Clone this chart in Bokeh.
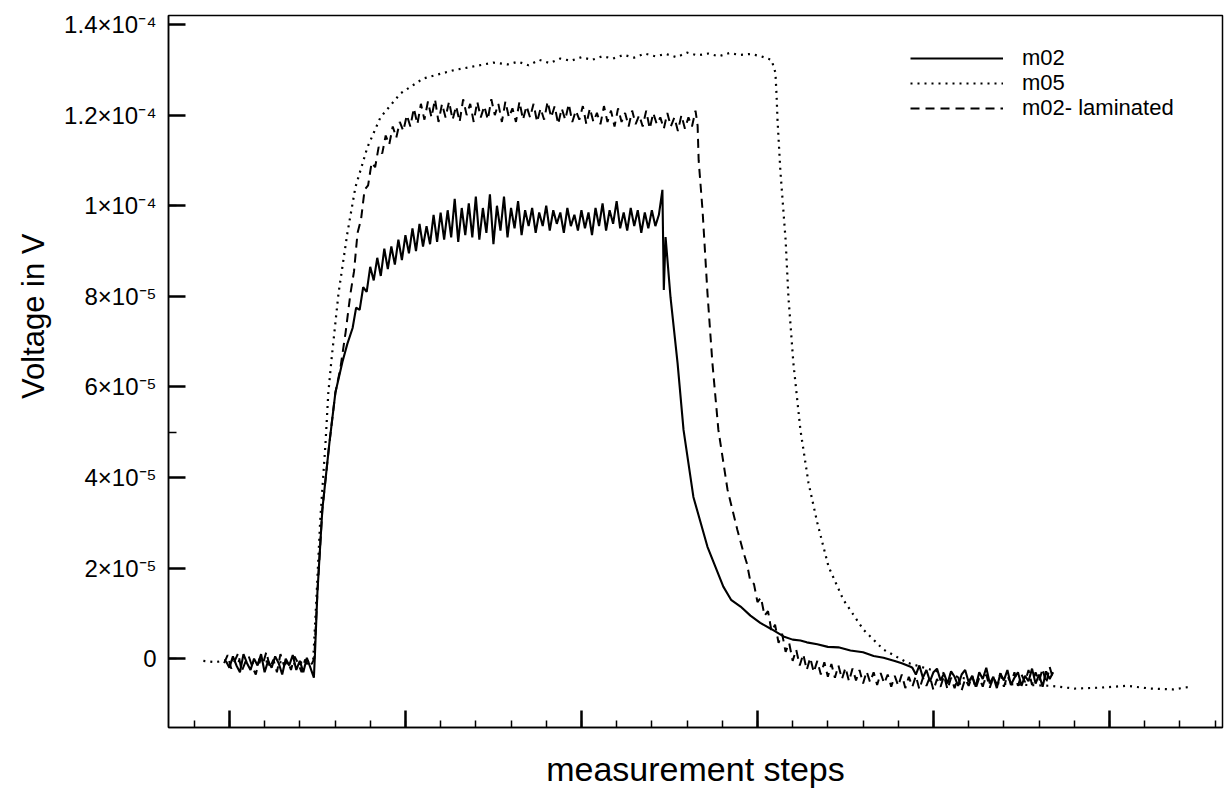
import numpy as np
from bokeh.plotting import figure
from bokeh.models import FixedTicker, Range1d, Title, Legend, LegendItem
from bokeh.embed import file_html
from bokeh.resources import INLINE

FONT = "Liberation Sans"

# ---- axis ticks / labels (voltage in units of 1e-5 V) ----
y_ticks = [0, 2, 4, 6, 8, 10, 12, 14]
y_tick_labels = ["0", "2×10⁻⁵", "4×10⁻⁵", "6×10⁻⁵", "8×10⁻⁵", "1×10⁻⁴", "1.2×10⁻⁴", "1.4×10⁻⁴"]
x_major_ticks = [500, 1000, 1500, 2000, 2500, 3000]
series_names = ["m02", "m05", "m02- laminated"]

# ---- m02 (solid) ----
m02_base_start, m02_base_step = 490, 10
m02_base_y = [-0.05, -0.2, 0.05, -0.15, -0.3, 0.1, -0.1, -0.25, 0.0, -0.15, 0.1, -0.3, -0.05,
              -0.2, 0.05, -0.1, -0.35, 0.0, -0.15, 0.08, -0.25, -0.05, -0.3, 0.02, -0.2, -0.42]
m02_rise_x = [743, 750, 764, 784, 801, 821, 835]
m02_rise_y = [0.1, 1.46, 3.29, 4.76, 5.87, 6.55, 6.95]
m02_plat_start, m02_plat_step = 850, 10
m02_plat_y = [7.30, 7.75, 7.70, 8.20, 8.10, 8.65, 8.35, 8.85, 8.45, 9.05, 8.60, 9.10, 8.70, 9.25, 8.80,
              9.35, 8.95, 9.50, 9.00, 9.60, 9.10, 9.55, 9.15, 9.80, 9.20, 9.85, 9.25, 9.90, 9.30, 10.15,
              9.20, 9.95, 9.35, 10.05, 9.30, 10.20, 9.25, 9.95, 9.40, 10.25, 9.15, 10.00, 9.45, 10.20, 9.30,
              9.95, 9.50, 10.10, 9.35, 9.90, 9.55, 9.95, 9.40, 9.85, 9.55, 10.00, 9.45, 9.90, 9.60, 9.85,
              9.40, 9.95, 9.55, 9.80, 9.45, 9.90, 9.50, 9.85, 9.35, 9.95, 9.55, 10.05, 9.45, 9.90, 9.60,
              10.10, 9.50, 9.85, 9.45, 9.95, 9.55, 9.90, 9.40, 9.85, 9.50, 9.90, 9.55, 9.80, 10.35]
m02_decay_x = [1734, 1739, 1753, 1773, 1790, 1818, 1858, 1903, 1925, 1952, 1980, 2008, 2040, 2074,
               2100, 2122, 2140, 2170, 2200, 2230, 2264, 2300, 2330, 2358, 2390, 2410, 2435]
m02_decay_y = [8.14, 9.31, 7.98, 6.53, 5.05, 3.57, 2.47, 1.59, 1.30, 1.15, 0.95, 0.79, 0.65, 0.49,
               0.42, 0.40, 0.36, 0.32, 0.26, 0.25, 0.18, 0.14, 0.06, 0.02, -0.05, -0.10, -0.18]
m02_tail_start, m02_tail_step = 2440, 10
m02_tail_y = [-0.20, -0.35, -0.15, -0.42, -0.25, -0.50, -0.30, -0.22, -0.48, -0.33, -0.55, -0.28,
              -0.40, -0.60, -0.35, -0.25, -0.52, -0.38, -0.62, -0.30, -0.45, -0.20, -0.55, -0.40,
              -0.65, -0.33, -0.48, -0.25, -0.58, -0.42, -0.30, -0.60, -0.38, -0.50, -0.22, -0.55,
              -0.35, -0.62, -0.28, -0.45, -0.30]

# ---- m05 (dotted) ----
m05_flat_x = [426, 460, 500, 560, 620, 680, 738]
m05_flat_y = [-0.05, -0.08, -0.02, -0.10, -0.05, -0.12, -0.04]
m05_rise_x = [747, 758, 773, 781, 790, 810, 835, 858, 892, 929, 986, 1051, 1136, 1250]
m05_rise_y = [1.30, 3.06, 4.76, 5.87, 6.60, 8.07, 9.39, 10.41, 11.29, 11.95, 12.48, 12.81, 12.99, 13.16]
m05_plat_start, m05_plat_step = 1290, 30
m05_plat_y = [13.12, 13.18, 13.10, 13.22, 13.15, 13.25, 13.20, 13.28, 13.22, 13.30, 13.25, 13.33,
              13.27, 13.36, 13.30, 13.35, 13.28, 13.38, 13.32, 13.36, 13.30, 13.37, 13.33, 13.35, 13.30]
m05_drop_x = [2040, 2051, 2054, 2057, 2065, 2080, 2088, 2102, 2122, 2145, 2170, 2202, 2244, 2301,
              2358, 2426, 2491, 2577, 2690, 2760, 2832, 2900, 2974, 3050, 3116, 3180, 3230]
m05_drop_y = [13.22, 12.94, 12.48, 11.89, 10.78, 9.24, 7.98, 6.53, 5.05, 3.88, 3.00, 2.03, 1.30,
              0.64, 0.20, -0.09, -0.24, -0.42, -0.55, -0.58, -0.60, -0.66, -0.64, -0.60, -0.66,
              -0.68, -0.62]

# ---- m02- laminated (dashed) ----
lam_base_start, lam_base_step = 485, 10
lam_base_y = [-0.1, 0.08, -0.22, -0.05, 0.12, -0.28, -0.08, 0.05, -0.18, -0.35, 0.0, -0.12, 0.15,
              -0.2, -0.02, -0.3, 0.1, -0.15, -0.05, -0.25, 0.05, -0.1, -0.3, -0.02, -0.18, -0.1]
lam_rise_x = [741, 750, 764, 784, 801, 815, 830]
lam_rise_y = [0.0, 1.46, 3.29, 4.76, 5.87, 6.4, 7.2]
lam_plat_start, lam_plat_step = 844, 10
lam_plat_y = [8.07, 8.55, 9.40, 9.70, 10.35, 10.45, 10.95, 10.85, 11.30, 11.15, 11.55, 11.35, 11.75,
              11.50, 11.85, 11.65, 12.00, 11.75, 12.15, 11.80, 12.25, 11.90, 12.30, 11.95, 12.35,
              11.85, 12.25, 11.95, 12.30, 11.90, 12.20, 11.85, 12.35, 12.00, 12.25, 11.85, 12.30,
              11.95, 12.20, 11.90, 12.35, 12.00, 12.25, 11.85, 12.30, 11.95, 12.15, 11.85, 12.30,
              11.90, 12.20, 11.95, 12.25, 11.85, 12.15, 11.90, 12.30, 11.95, 12.20, 11.80, 12.15,
              11.90, 12.25, 11.85, 12.10, 11.90, 12.20, 11.80, 12.15, 11.85, 12.05, 11.80, 12.20,
              11.85, 12.10, 11.75, 12.15, 11.85, 12.05, 11.75, 12.10, 11.80, 12.00, 11.75, 12.10,
              11.70, 12.05, 11.80, 11.95, 11.70, 12.05, 11.75, 11.95, 11.65, 12.00, 11.70, 11.95,
              11.75, 12.10]
lam_drop_x = [1830, 1833, 1844, 1858, 1872, 1889, 1915, 1943, 1960]
lam_drop_y = [11.77, 11.0, 9.9, 8.07, 6.53, 5.05, 3.73, 2.84, 2.35]
lam_tail_start, lam_tail_step = 1970, 10
lam_tail_y = [2.10, 1.70, 1.65, 1.25, 1.35, 0.95, 1.05, 0.60, 0.75, 0.35, 0.55, 0.15, 0.35, -0.05,
              0.20, -0.15, 0.10, -0.25, 0.02, -0.30, -0.05, -0.35, -0.08, -0.40, -0.12, -0.42, -0.15,
              -0.45, -0.20, -0.50, -0.22, -0.48, -0.25, -0.55, -0.28, -0.52, -0.30, -0.58, -0.32,
              -0.55, -0.35, -0.62, -0.38, -0.60, -0.35, -0.65, -0.40, -0.62, -0.38, -0.68, -0.42,
              -0.60, -0.40, -0.70, -0.45, -0.62, -0.38, -0.68, -0.42, -0.65, -0.40, -0.70, -0.45,
              -0.60, -0.38, -0.66, -0.42, -0.62, -0.35, -0.64, -0.40, -0.58, -0.32, -0.62, -0.38,
              -0.55, -0.30, -0.60, -0.35, -0.52, -0.25, -0.58, -0.30, -0.50, -0.22, -0.55, -0.18,
              -0.45]


def regular(start, step, vals):
    return list(start + step * np.arange(len(vals))), list(vals)


def join(*parts):
    xs, ys = [], []
    for x, y in parts:
        xs += list(x)
        ys += list(y)
    return xs, ys


m02_x, m02_y = join(regular(m02_base_start, m02_base_step, m02_base_y), (m02_rise_x, m02_rise_y),
                    regular(m02_plat_start, m02_plat_step, m02_plat_y), (m02_decay_x, m02_decay_y),
                    regular(m02_tail_start, m02_tail_step, m02_tail_y))
m05_x, m05_y = join((m05_flat_x, m05_flat_y), (m05_rise_x, m05_rise_y),
                    regular(m05_plat_start, m05_plat_step, m05_plat_y), (m05_drop_x, m05_drop_y))
lam_x, lam_y = join(regular(lam_base_start, lam_base_step, lam_base_y), (lam_rise_x, lam_rise_y),
                    regular(lam_plat_start, lam_plat_step, lam_plat_y), (lam_drop_x, lam_drop_y),
                    regular(lam_tail_start, lam_tail_step, lam_tail_y))

p = figure(width=1224, height=790, output_backend="svg", toolbar_location=None,
           x_range=Range1d(327, 3321), y_range=Range1d(-1.52, 14.2),
           min_border_left=168, min_border_right=2, min_border_top=15, min_border_bottom=62)
p.background_fill_color = "white"
p.border_fill_color = "white"
p.outline_line_color = "black"
p.outline_line_width = 1.5
p.grid.visible = False

r_m02 = p.line(m02_x, m02_y, line_color="black", line_width=2.1)
r_m05 = p.line(m05_x, m05_y, line_color="black", line_width=2.2, line_dash="2 5")
r_lam = p.line(lam_x, lam_y, line_color="black", line_width=2.0, line_dash="9 6")

# axes
p.xaxis.ticker = FixedTicker(ticks=x_major_ticks, minor_ticks=list(range(400, 3400, 100)))
p.yaxis.ticker = FixedTicker(ticks=y_ticks, minor_ticks=list(range(-15, 145, 5)))
p.yaxis.major_label_overrides = {t: lab for t, lab in zip(y_ticks, y_tick_labels)}
for ax in (p.xaxis, p.yaxis):
    ax.axis_line_color = "black"
    ax.axis_line_width = 1.5
    ax.major_tick_line_color = "black"
    ax.major_tick_line_width = 2.5
    ax.minor_tick_line_color = "black"
    ax.minor_tick_line_width = 1.5
    ax.major_tick_out = 0
    ax.minor_tick_out = 0
p.xaxis.major_tick_in = 17
p.xaxis.minor_tick_in = 7
p.yaxis.major_tick_in = 17
p.yaxis.minor_tick_in = 8
p.xaxis.major_label_text_color = None
p.xaxis.major_label_text_font_size = "1px"
p.xaxis.major_label_standoff = 0
p.yaxis.major_label_text_font = FONT
p.yaxis.major_label_text_font_size = "24px"
p.yaxis.major_label_text_color = "black"
p.yaxis.major_label_standoff = 12

# axis titles
p.xaxis.axis_label = "measurement steps"
p.xaxis.axis_label_text_font = FONT
p.xaxis.axis_label_text_font_size = "34px"
p.xaxis.axis_label_text_font_style = "normal"
p.xaxis.axis_label_text_color = "black"
p.xaxis.axis_label_standoff = 22
p.add_layout(Title(text="Voltage in V", align="right", offset=218, standoff=22,
                   text_font=FONT, text_font_size="31px", text_font_style="normal",
                   text_color="black"), "left")

# legend: one entry per box, stacked
for name, rend, vy in zip(series_names, [r_m02, r_m05, r_lam], [656, 631, 606]):
    lg = Legend(items=[LegendItem(label=name, renderers=[rend])], location=(742, vy))
    lg.border_line_color = None
    lg.background_fill_alpha = 0
    lg.padding = 0
    lg.margin = 0
    lg.glyph_width = 93
    lg.glyph_height = 20
    lg.label_height = 20
    lg.label_standoff = 19
    lg.label_text_font = FONT
    lg.label_text_font_size = "22px"
    lg.label_text_color = "black"
    p.add_layout(lg)

open("out.html", "w").write(file_html(p, INLINE))
